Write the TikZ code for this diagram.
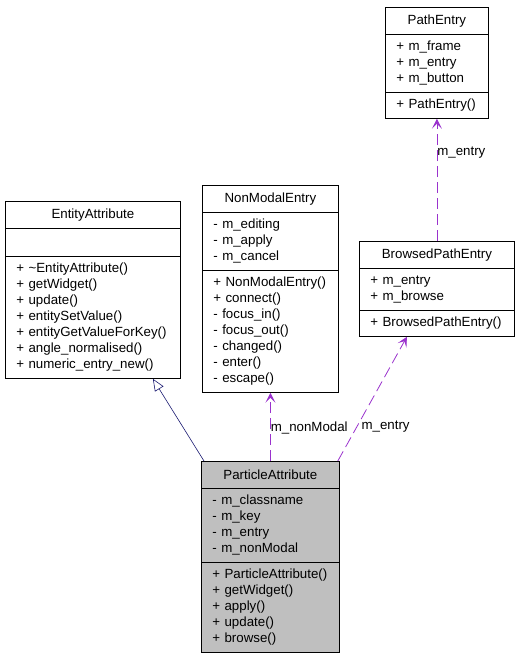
\documentclass[tikz,border=0pt]{standalone}
\usepackage{fontspec}
\setmainfont{Liberation Sans}
\usepackage{xcolor}
\usetikzlibrary{arrows.meta}
\definecolor{usagepurple}{HTML}{9A32CD}
\definecolor{inheritblue}{HTML}{191970}
\definecolor{classgray}{HTML}{BFBFBF}
\tikzstyle{umlpart} = [draw=black, line width=0.8pt, anchor=north west, inner xsep=11pt, inner ysep=0pt, font=\fontsize{13.3}{16}\selectfont]
\tikzstyle{umlhead} = [umlpart, align=center, minimum height=27pt]
\tikzstyle{umlbody} = [umlpart, align=left]
\tikzstyle{usage} = [usagepurple, line width=0.8pt, dash pattern=on 11pt off 5pt, -{Stealth[length=10pt,width=10pt,inset=5pt]}]
\tikzstyle{inherit} = [inheritblue, line width=0.6pt, -{Triangle[open,length=12pt,width=10pt]}]
\tikzstyle{edgelabel} = [black, font=\fontsize{13.3}{16}\selectfont, anchor=west, inner sep=0pt]

\begin{document}
\begin{tikzpicture}[x=1pt, y=-1pt]
\useasboundingbox (0,0) rectangle (517,659);

\node[umlhead, text width=81pt] (pe) at (385,7) {PathEntry};
\node[umlbody, text width=81pt, minimum height=58pt] (pe-attr) at (385,34) {+ m\_frame\\+ m\_entry\\+ m\_button};
\node[umlbody, text width=81pt, minimum height=26pt] (pe-ops) at (385,92) {+ PathEntry()};

\node[umlhead, text width=133pt] (bpe) at (359,241) {BrowsedPathEntry};
\node[umlbody, text width=133pt, minimum height=42pt] (bpe-attr) at (359,268) {+ m\_entry\\+ m\_browse};
\node[umlbody, text width=133pt, minimum height=26pt] (bpe-ops) at (359,310) {+ BrowsedPathEntry()};

\node[umlhead, text width=153pt] (ea) at (5,201) {EntityAttribute};
\node[umlbody, text width=153pt, minimum height=28pt] (ea-attr) at (5,228) {};
\node[umlbody, text width=153pt, minimum height=122pt] (ea-ops) at (5,256) {+ \textasciitilde EntityAttribute()\\+ getWidget()\\+ update()\\+ entitySetValue()\\+ entityGetValueForKey()\\+ angle\_normalised()\\+ numeric\_entry\_new()};

\node[umlhead, text width=114pt] (nme) at (202,185) {NonModalEntry};
\node[umlbody, text width=114pt, minimum height=58pt] (nme-attr) at (202,212) {- m\_editing\\- m\_apply\\- m\_cancel};
\node[umlbody, text width=114pt, minimum height=122pt] (nme-ops) at (202,270) {+ NonModalEntry()\\+ connect()\\- focus\_in()\\- focus\_out()\\- changed()\\- enter()\\- escape()};

\node[umlhead, text width=116pt, fill=classgray] (pa) at (201,461) {ParticleAttribute};
\node[umlbody, text width=116pt, minimum height=74pt, fill=classgray] (pa-attr) at (201,488) {- m\_classname\\- m\_key\\- m\_entry\\- m\_nonModal};
\node[umlbody, text width=116pt, minimum height=90pt, fill=classgray] (pa-ops) at (201,562) {+ ParticleAttribute()\\+ getWidget()\\+ apply()\\+ update()\\+ browse()};

\draw[inherit] ([xshift=3pt]pa.north west) -- ([xshift=60pt]ea-ops.south);
\draw[usage] (pa.north) -- node[edgelabel, pos=0.49] {m\_nonModal} (nme-ops.south);
\draw[usage] ([xshift=-2pt]pa.north east) -- node[edgelabel, pos=0.28, xshift=4pt] {m\_entry} ([xshift=-30pt]bpe-ops.south);
\draw[usage] (bpe.north) -- node[edgelabel, pos=0.72] {m\_entry} (pe-ops.south);
\end{tikzpicture}
\end{document}
